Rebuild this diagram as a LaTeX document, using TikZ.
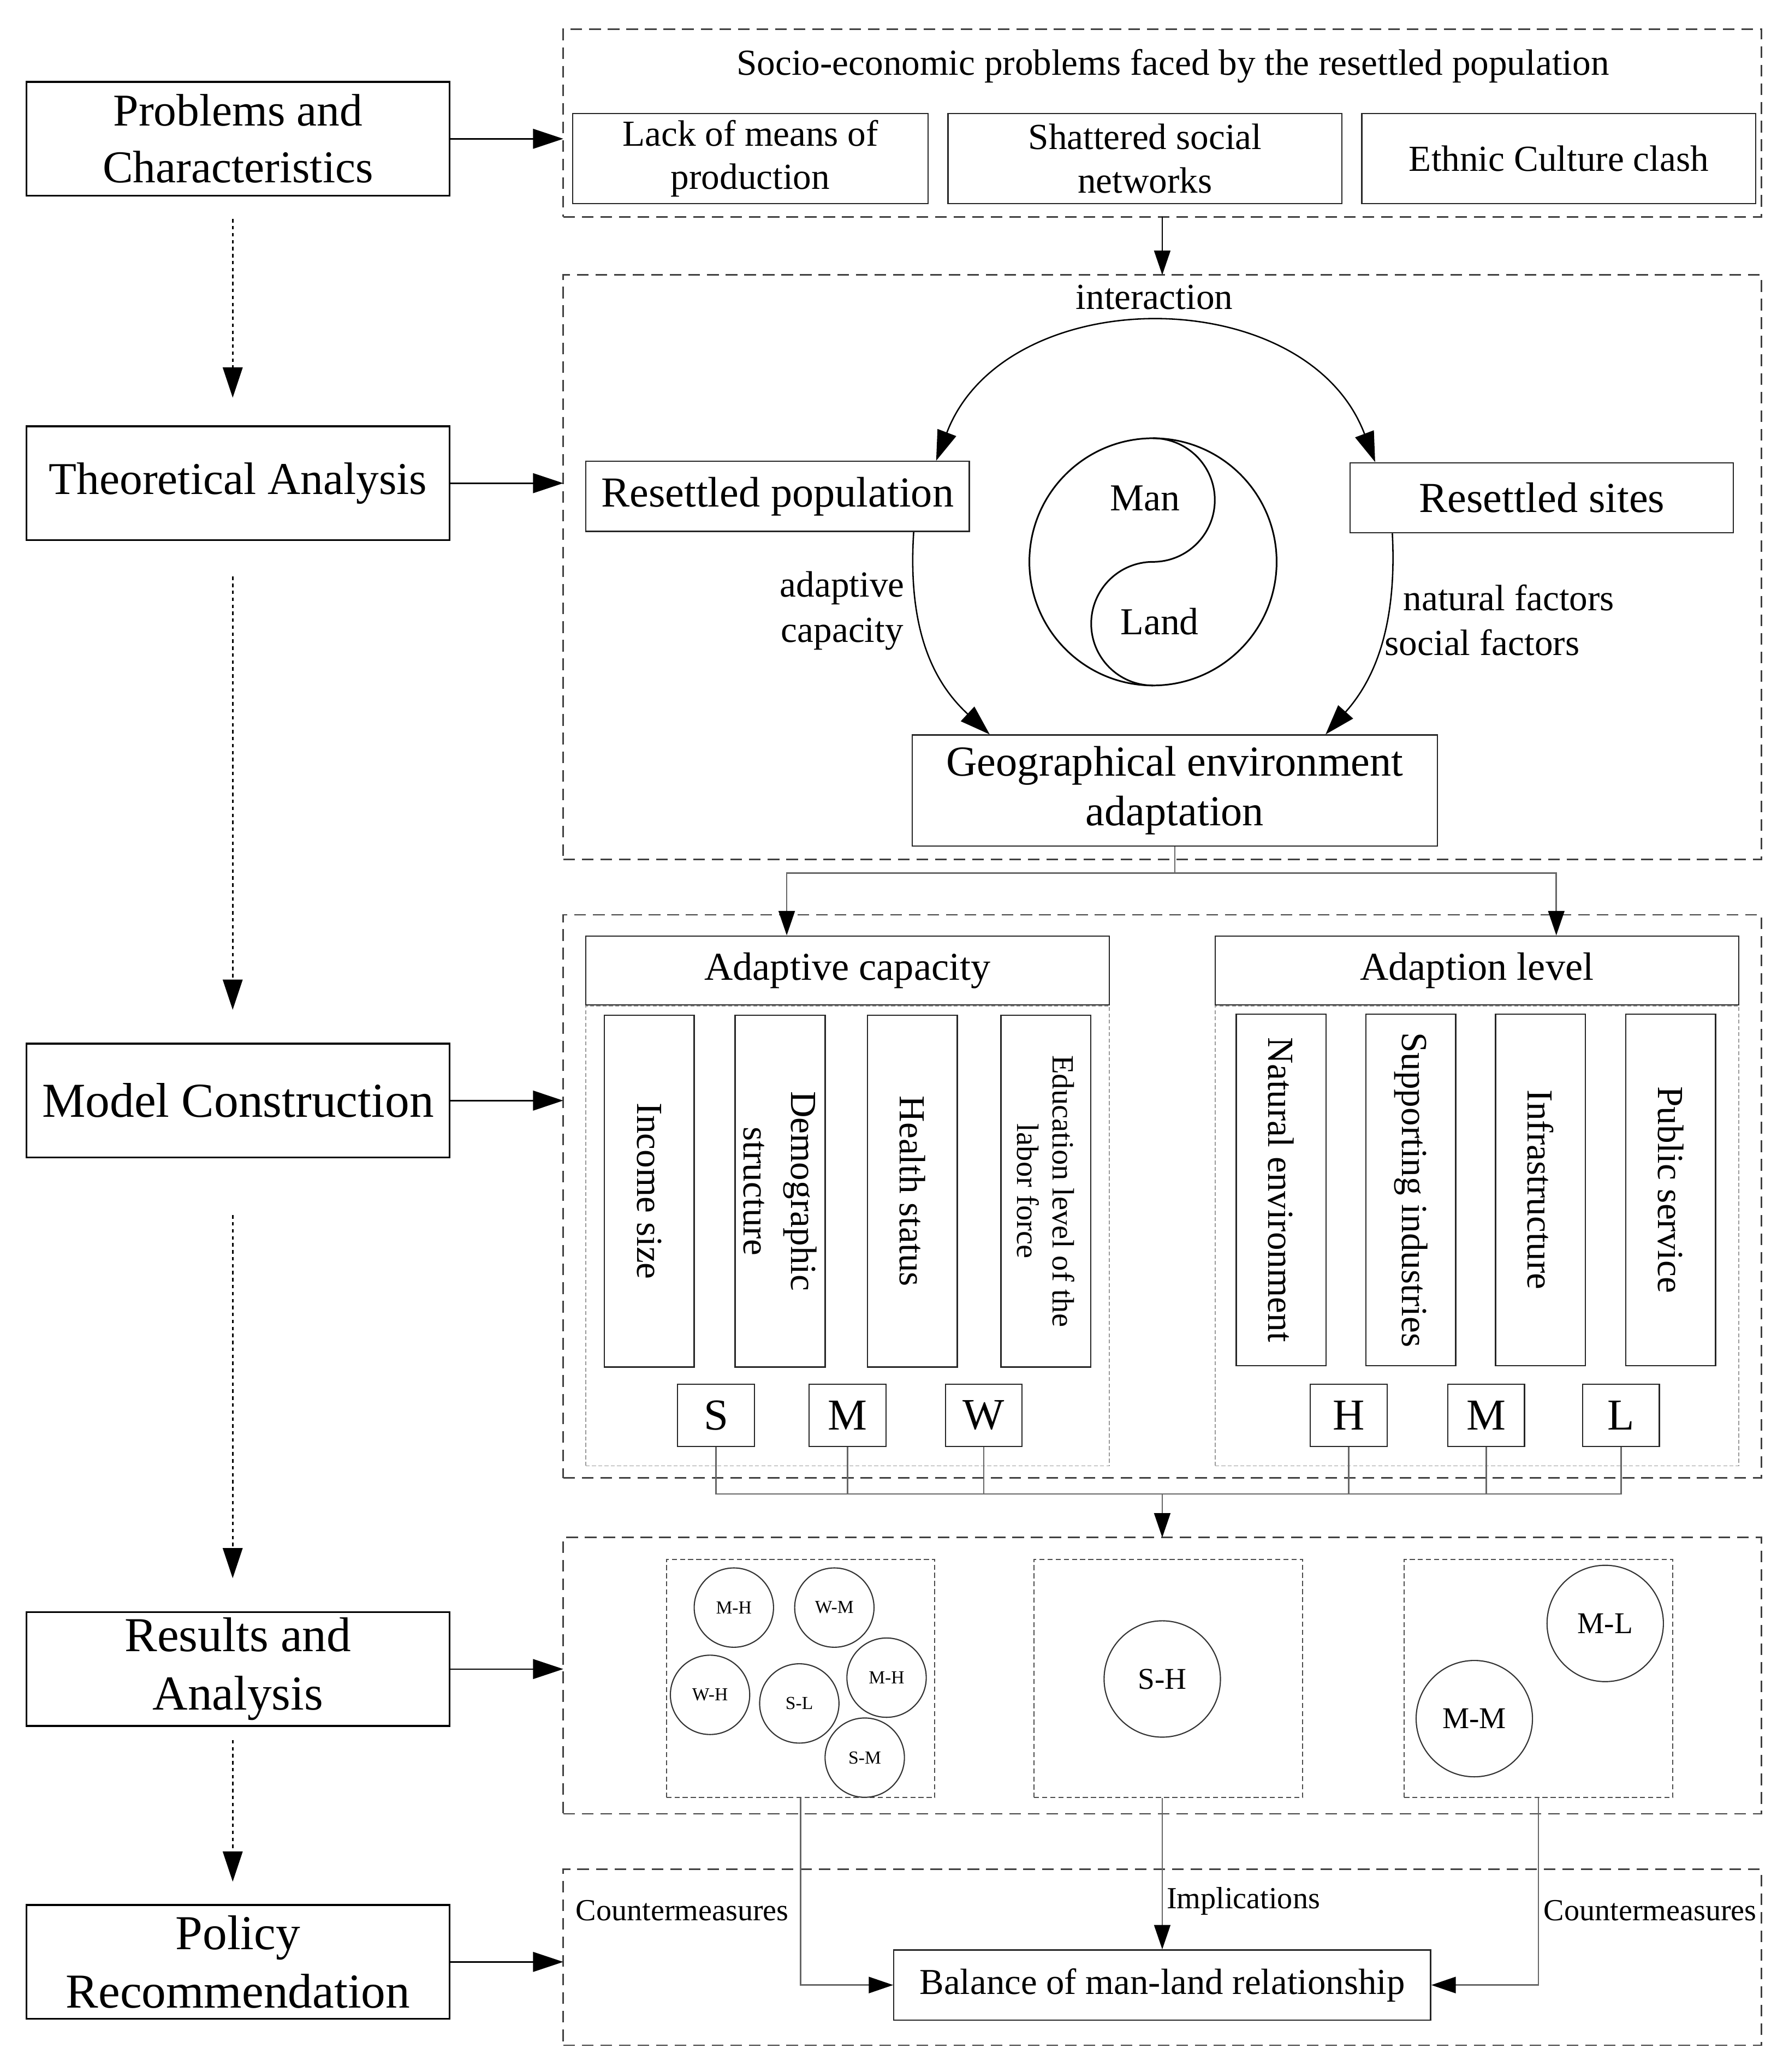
\documentclass[tikz,border=0pt]{standalone}
\usepackage{fontspec}
\setmainfont{Liberation Serif}
\usetikzlibrary{arrows.meta}
\usetikzlibrary{positioning}

\newlength{\dpx}
\setlength{\dpx}{0.02cm}
\newcommand{\setfs}[2]{\fontsize{#1}{#2}\selectfont}

\tikzset {
  % stages in the left column
  stagebox/.style = {
    draw = black,
    line width = 0.8pt,
    minimum width = 320\dpx,
    minimum height = 86\dpx,
    inner sep = 0,
    align = center,
    font = \setfs{21pt}{25pt}
  },
  % dashed frame of each stage
  stageframe/.style = {
    draw = black!75,
    line width = 0.65pt,
    dash pattern = on 5pt off 3pt,
    minimum width = 906\dpx,
    inner sep = 0,
    outer sep = 0
  },
  itembox/.style = {
    draw = black!85,
    line width = 0.55pt,
    inner sep = 0,
    align = center,
    font = \setfs{15.8pt}{18.7pt}
  },
  bigbox/.style = {
    itembox,
    font = \setfs{18.4pt}{21.5pt}
  },
  headbox/.style = {
    itembox,
    minimum width = 396\dpx,
    minimum height = 52\dpx,
    font = \setfs{17pt}{20pt}
  },
  groupbox/.style = {
    draw = black!40,
    line width = 0.4pt,
    dash pattern = on 1.7pt off 1pt,
    minimum width = 396\dpx,
    minimum height = 348\dpx,
    inner sep = 0
  },
  % indicator box, text read from top to bottom
  factor/.style = {
    itembox,
    rotate = -90,
    minimum width = 266\dpx,
    minimum height = 68\dpx,
    font = \setfs{15.8pt}{20.4pt}
  },
  gradebox/.style = {
    itembox,
    minimum width = 58\dpx,
    minimum height = 47\dpx,
    font = \setfs{19pt}{22pt}
  },
  clusterbox/.style = {
    draw = black!70,
    line width = 0.5pt,
    dash pattern = on 2.2pt off 1.3pt,
    minimum width = 203\dpx,
    minimum height = 180\dpx,
    inner sep = 0
  },
  smallcell/.style = {
    circle,
    draw = black!80,
    line width = 0.5pt,
    minimum size = 60\dpx,
    inner sep = 0,
    font = \setfs{7.9pt}{9pt}
  },
  bigcell/.style = {
    smallcell,
    minimum size = 88\dpx,
    font = \setfs{13pt}{15pt}
  },
  yinyang/.style = {
    circle,
    draw = black,
    line width = 0.7pt,
    minimum size = 187\dpx,
    inner sep = 0,
    outer sep = 0
  },
  lbl/.style = {
    inner sep = 0,
    font = \setfs{15.8pt}{19.3pt}
  },
  note/.style = {
    inner sep = 0,
    font = \setfs{13.2pt}{15pt}
  },
  % connectors
  arr/.style = {
    draw = black,
    line width = 0.6pt,
    ->
  },
  biarr/.style = {
    draw = black,
    line width = 0.6pt,
    <->
  },
  tarr/.style = {
    draw = black,
    line width = 0.6pt,
    -{Triangle[length=10.5pt,width=7pt]}
  },
  dotarr/.style = {
    arr,
    dash pattern = on 1.5pt off 1.5pt
  },
  sarr/.style = {
    draw = black!60,
    line width = 0.6pt,
    -{Triangle[length=10.5pt,width=7pt,color=black]}
  },
  conn/.style = {
    draw = black!60,
    line width = 0.6pt
  },
  yyline/.style = {
    draw = black,
    line width = 0.7pt
  }
}

\begin{document}
\begin{tikzpicture}[x=0.02cm, y=-0.02cm, >={Triangle[length=13pt,width=8.5pt]}]
  \useasboundingbox (0,0) rectangle (1352.6,1567.3);

  % stages
  \node[stagebox, font=\setfs{19.6pt}{24.4pt}] (pc) at (180,105) {Problems and\\Characteristics};
  \node[stagebox, font=\setfs{19.6pt}{24.4pt}] (ta) at (180,365.5) {Theoretical Analysis};
  \node[stagebox] (mc) at (180,832.5) {Model Construction};
  \node[stagebox] (ra) at (180,1262.5) {Results and\\Analysis};
  \node[stagebox] (pr) at (180,1484) {Policy\\Recommendation};

  % frames
  \node[stageframe, minimum height=142\dpx] (f-prob) at (879,93) {};
  \node[stageframe, minimum height=442\dpx] (f-theo) at (879,429) {};
  \node[stageframe, minimum height=426\dpx] (f-model) at (879,905) {};
  \node[stageframe, minimum height=209\dpx] (f-res) at (879,1267.5) {};
  \node[stageframe, minimum height=133\dpx] (f-pol) at (879,1480.5) {};

  \draw[arr] (pc.east) -- (pc.east -| f-prob.west);
  \draw[arr] (ta.east) -- (ta.east -| f-theo.west);
  \draw[arr] (mc.east) -- (mc.east -| f-model.west);
  \draw[arr] (ra.east) -- (ra.east -| f-res.west);
  \draw[arr] (pr.east) -- (pr.east -| f-pol.west);

  \draw[dotarr] ([xshift=-4\dpx, yshift=-17\dpx]pc.south) -- ([xshift=-4\dpx, yshift=21\dpx]ta.north);
  \draw[dotarr] ([xshift=-4\dpx, yshift=-27\dpx]ta.south) -- ([xshift=-4\dpx, yshift=25\dpx]mc.north);
  \draw[dotarr] ([xshift=-4\dpx, yshift=-43\dpx]mc.south) -- ([xshift=-4\dpx, yshift=25\dpx]ra.north);
  \draw[dotarr] ([xshift=-4\dpx, yshift=-10\dpx]ra.south) -- ([xshift=-4\dpx, yshift=17\dpx]pr.north);

  % problems
  \node[lbl] (prob-title) at (887,50) {Socio-economic problems faced by the resettled population};
  \node[itembox, minimum width=269\dpx, minimum height=68\dpx] (lack) at (567.5,120) {Lack of means of\\production};
  \node[itembox, minimum width=298\dpx, minimum height=68\dpx, right=14\dpx of lack] (network) {Shattered social\\networks};
  \node[itembox, minimum width=298\dpx, minimum height=68\dpx, right=14\dpx of network] (clash) {Ethnic Culture clash};
  \draw[tarr] (f-prob) -- (f-theo);

  % man-land system
  \node[lbl] (interaction) at (873,225) {interaction};
  \node[bigbox, minimum width=290\dpx, minimum height=53\dpx] (pop) at (588,375.5) {Resettled population};
  \node[bigbox, minimum width=290\dpx, minimum height=53\dpx] (sites) at (1166,376.5) {Resettled sites};
  \node[bigbox, minimum width=397\dpx, minimum height=84\dpx] (geo) at (888.5,598) {Geographical environment\\adaptation};
  \node[yinyang] (yy) at (872,425) {};
  \draw[yyline] (yy.north) arc[start angle=90, end angle=-90, radius=46.75\dpx]
    arc[start angle=90, end angle=270, radius=46.75\dpx];
  \node[lbl, font=\setfs{16.4pt}{19pt}] (man) at (866,377) {Man};
  \node[lbl, font=\setfs{16.4pt}{19pt}] (land) at (877,470) {Land};
  \node[lbl, align=center] (adapt) at (637,462) {adaptive\\capacity};
  \node[lbl, anchor=west] (natural) at (1061,452) {natural factors};
  \node[lbl, anchor=west] (socialf) at (1047,486) {social factors};

  \draw[biarr] ([xshift=120\dpx]pop.north) .. controls (760,212) and (988,212) .. ([xshift=-126\dpx]sites.north);
  \draw[arr] ([xshift=103\dpx]pop.south) .. controls (686,480) and (708,518) .. ([xshift=-140\dpx]geo.north);
  \draw[arr] ([xshift=-113\dpx]sites.south) .. controls (1057,480) and (1036,518) .. ([xshift=114\dpx]geo.north);

  % model
  \node[headbox] (cap) at (641,734) {Adaptive capacity};
  \node[headbox] (lev) at (1117,734) {Adaption level};
  \node[groupbox, below=0pt of cap] (cap-group) {};
  \node[groupbox, below=0pt of lev] (lev-group) {};

  \coordinate[below=20\dpx of geo] (split);
  \draw[sarr] (geo) -- (split) -| ([xshift=-46\dpx]cap.north);
  \draw[sarr] (split) -| ([xshift=60\dpx]lev.north);

  \node[factor] (income) at (491,901) {Income size};
  \node[factor] (demo) at (590,901) {Demographic\\structure};
  \node[factor] (health) at (690,901) {Health status};
  \node[factor, font=\setfs{13.3pt}{15.3pt}] (edu) at (791,901) {Education level of the\\labor force};
  \node[factor] (natenv) at (969,900) {Natural environment};
  \node[factor] (industry) at (1067,900) {Supporting industries};
  \node[factor] (infra) at (1165,900) {Infrastructure};
  \node[factor] (service) at (1263.5,900) {Public service};

  \node[gradebox] (s) at (541.5,1070.5) {S};
  \node[gradebox] (m-cap) at (641,1070.5) {M};
  \node[gradebox] (w) at (744,1070.5) {W};
  \node[gradebox] (h) at (1020,1070.5) {H};
  \node[gradebox] (m-lev) at (1124,1070.5) {M};
  \node[gradebox] (l) at (1226,1070.5) {L};

  \coordinate (merge) at (879,1130);
  \draw[conn] (s) |- (merge);
  \draw[conn] (l) |- (merge);
  \draw[conn] (m-cap) -- (m-cap |- merge);
  \draw[conn] (w) -- (w |- merge);
  \draw[conn] (h) -- (h |- merge);
  \draw[conn] (m-lev) -- (m-lev |- merge);
  \draw[sarr] (merge) -- (f-res);

  % results
  \node[clusterbox] (grp-a) at (605.5,1269.5) {};
  \node[clusterbox] (grp-b) at (883.5,1269.5) {};
  \node[clusterbox] (grp-c) at (1163.5,1269.5) {};
  \node[smallcell] (mh-a) at (555,1216) {M-H};
  \node[smallcell] (wm) at (631,1216) {W-M};
  \node[smallcell] (wh) at (537,1282) {W-H};
  \node[smallcell] (sl) at (604.5,1288.5) {S-L};
  \node[smallcell] (mh-b) at (670.5,1269) {M-H};
  \node[smallcell] (sm) at (654,1329.5) {S-M};
  \node[bigcell] (sh) at (879,1270) {S-H};
  \node[bigcell] (ml) at (1214,1228) {M-L};
  \node[bigcell] (mm) at (1115,1300) {M-M};

  % policy
  \node[itembox, minimum width=406\dpx, minimum height=53\dpx, font=\setfs{15.7pt}{18pt}] (bal) at (879,1501.5) {Balance of man-land relationship};
  \draw[sarr] (grp-a) |- (bal);
  \draw[sarr] (sh |- grp-b.south) -- (bal);
  \draw[sarr] (grp-c) |- (bal);
  \node[note] (cm-left) at (516,1445) {Countermeasures};
  \node[note, anchor=west] (impl) at (882,1438) {Implications};
  \node[note] (cm-right) at (1248,1445) {Countermeasures};
\end{tikzpicture}
\end{document}
